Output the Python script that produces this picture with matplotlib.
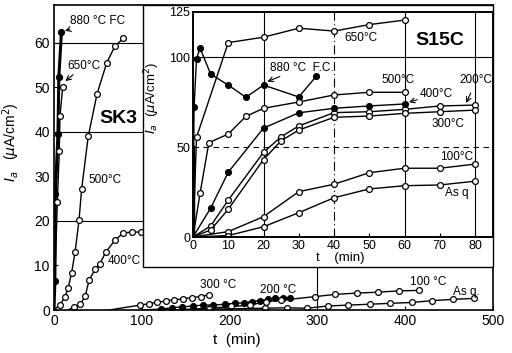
import matplotlib
matplotlib.use("Agg")
import matplotlib.pyplot as plt
from matplotlib.patches import Rectangle

plt.rcParams['font.family'] = ['Liberation Sans', 'DejaVu Sans']
plt.rcParams['mathtext.fontset'] = 'dejavusans'

# ---------------- main chart (SK3) data ----------------
sk_880_t = [0, 1, 1.5, 4.5, 5.5, 8.5]
sk_880_i = [0, 6.5, 26, 39.5, 52.3, 62.5]
sk_650_t = [0, 3.8, 6, 6.8, 9.9]
sk_650_i = [0, 24.3, 35.6, 43.6, 50]
sk_500_t = [0, 7, 12.5, 16, 20, 24, 28.5, 31.5, 39, 49, 60, 69.5, 79]
sk_500_i = [0, 1.2, 2.9, 4.9, 8.3, 13, 20.2, 27.2, 39, 48.5, 55.5, 59.3, 61]
sk_400_t = [16, 23, 30, 35.5, 40, 47, 52, 59, 69.5, 79, 88.5, 99]
sk_400_i = [0, 0.7, 1.3, 3.1, 6.7, 9.2, 10.3, 13, 15.7, 17.3, 17.5, 17.5]
sk_300_t = [63, 98, 108, 117, 127, 137, 147, 157, 167, 176]
sk_300_i = [0, 1.1, 1.4, 1.7, 2.0, 2.3, 2.5, 2.8, 3.0, 3.4]
sk_200_t = [100, 122, 134, 146, 158, 170, 181, 195, 206, 216, 225, 235, 244, 252, 261, 269]
sk_200_i = [0, 0.2, 0.5, 0.7, 0.9, 1.1, 1.1, 1.3, 1.5, 1.6, 1.9, 2.1, 2.4, 2.6, 2.6, 2.8]
sk_100_t = [140, 178, 202, 223, 242, 259, 297, 320, 345, 369, 393, 416]
sk_100_i = [0, 0.4, 0.8, 1.1, 1.9, 2.2, 3.0, 3.5, 3.8, 4.0, 4.3, 4.4]
sk_asq_t = [120, 176, 240, 265, 288, 312, 335, 360, 383, 408, 431, 455, 478]
sk_asq_i = [0, 0.2, 0.4, 0.5, 0.4, 0.9, 1.1, 1.3, 1.5, 1.7, 2.1, 2.4, 2.6]

# ---------------- inset chart (S15C) data ----------------
s_t = [0, 10, 20, 30, 40, 50, 60, 70, 80]
s_880_t = [0, 0.3, 1, 2, 5, 10, 15, 20, 30, 35]
s_880_i = [0, 72, 99, 105, 90.5, 84.4, 77.6, 84.4, 77.8, 89.4]
s_650_t = [0, 1, 10, 20, 30, 40, 50, 60]
s_650_i = [0, 55.4, 108, 111, 116, 114.4, 118, 120.5]
s_500_t = [0, 2, 4.5, 10, 15, 20, 30, 40, 50, 60]
s_500_i = [0, 24.3, 52.4, 57.2, 67, 71.5, 75, 78.9, 80.4, 80.4]
s_400_t = [0, 5, 10, 20, 30, 40, 50, 60]
s_400_i = [0, 16, 36, 60.5, 69, 71.5, 72.8, 73.9]
s_200_t = [0, 5, 10, 20, 25, 30, 40, 50, 60, 70, 80]
s_200_i = [0, 6.1, 20.5, 47, 55.7, 61.7, 69.1, 69.6, 70.9, 72.8, 73.3]
s_300_t = [0, 5, 10, 20, 25, 30, 40, 50, 60, 70, 80]
s_300_i = [0, 3.9, 15.4, 43, 53.5, 59.4, 66.5, 67.2, 68.7, 69.6, 70.5]
s_100_i = [0, 3, 11.3, 25.2, 29.3, 35.7, 38.2, 38.2, 40.5]
s_asq_i = [0, 0.8, 5.7, 13.5, 21.8, 26.7, 28.5, 28.9, 31]

main_xticks = [0, 100, 200, 300, 400, 500]
main_yticks = [0, 10, 20, 30, 40, 50, 60]
ins_xticks = [0, 10, 20, 30, 40, 50, 60, 70, 80]
ins_yticks = [0, 50, 100, 125]

fig = plt.figure(figsize=(5.12, 3.53), dpi=100)
ax = fig.add_axes([54/512, 1-310/353, 439/512, 305/353])
ax.set_xlim(0, 500)
ax.set_ylim(0, 68.5)

open_kw = dict(color='black', lw=1.0, marker='o', ms=4.2, mfc='white', mec='black', mew=0.9,
               markevery=slice(1, None))
fill_kw = dict(color='black', lw=1.0, marker='o', ms=4.2, mfc='black', mec='black', mew=0.9,
               markevery=slice(1, None))

for y in [20, 40, 60]:
    ax.axhline(y, color='black', lw=0.8, zorder=1)
ax.axvline(300, color='black', lw=0.8, zorder=1)

ax.plot(sk_880_t, sk_880_i, color='black', lw=2.2, marker='o', ms=4.2, mfc='black',
        mec='black', markevery=slice(1, None), zorder=3)
ax.plot(sk_650_t, sk_650_i, **open_kw, zorder=4)
ax.plot(sk_500_t, sk_500_i, **open_kw)
ax.plot(sk_400_t, sk_400_i, **open_kw)
ax.plot(sk_300_t, sk_300_i, **open_kw)
ax.plot(sk_200_t, sk_200_i, **fill_kw)
ax.plot(sk_100_t, sk_100_i, **open_kw)
ax.plot(sk_asq_t, sk_asq_i, **open_kw)

ax.set_xticks(main_xticks)
ax.set_yticks(main_yticks)
ax.tick_params(direction='in', length=3, labelsize=10, pad=3)
for s in ax.spines.values():
    s.set_linewidth(1.2)
ax.set_xlabel('t  (min)', fontsize=11)
ax.xaxis.set_label_coords(0.417, -0.075)
ax.set_ylabel(r'$I_a$   ($\mu$A/cm$^2$)', fontsize=10)
ax.yaxis.set_label_coords(-0.072, 0.55)

tk = dict(fontsize=8.5, color='black')
ax.annotate('880 °C FC', xy=(9.5, 62.5), xytext=(18, 65), va='center', ha='left',
            arrowprops=dict(arrowstyle='->', lw=0.8, color='black', shrinkA=0, shrinkB=2), **tk)
ax.annotate('650°C', xy=(10.5, 51), xytext=(15, 54.8), va='center', ha='left',
            arrowprops=dict(arrowstyle='->', lw=0.8, color='black', shrinkA=0, shrinkB=2), **tk)
ax.text(52, 43, 'SK3', fontsize=14, fontweight='bold', va='center', ha='left')
ax.text(39, 29.2, '500°C', va='center', ha='left', **tk)
ax.text(61.5, 11, '400°C', va='center', ha='left', **tk)
ax.text(166, 5.6, '300 °C', va='center', ha='left', **tk)
ax.text(235, 4.5, '200 °C', va='center', ha='left', **tk)
ax.text(405, 6.3, '100 °C', va='center', ha='left', **tk)
ax.text(454, 4.0, 'As q.', va='center', ha='left', **tk)

# inset frame
ax.add_patch(Rectangle((89/439, 43/305), 1 - 89/439, 1 - 43/305, transform=ax.transAxes,
                       facecolor='white', edgecolor='black', lw=1.0, zorder=6, clip_on=False))

# ---------------- inset axes ----------------
ax2 = fig.add_axes([193/512, 1-237/353, 300/512, 225/353])
ax2.set_xlim(0, 85.1)
ax2.set_ylim(0, 125)
ax2.axvline(20, color='black', lw=0.8, zorder=1)
ax2.axvline(40, color='black', lw=0.8, ls=(0, (8, 3, 1, 3)), zorder=1)
ax2.axvline(60, color='black', lw=0.8, zorder=1)
ax2.axvline(80, color='black', lw=0.8, zorder=1)
ax2.axhline(50, color='black', lw=0.8, ls=(0, (5, 4)), zorder=1)
ax2.axhline(100, color='black', lw=0.8, zorder=1)

ax2.plot(s_880_t, s_880_i, **fill_kw)
ax2.plot(s_650_t, s_650_i, **open_kw)
ax2.plot(s_500_t, s_500_i, **open_kw)
ax2.plot(s_400_t, s_400_i, **fill_kw, zorder=4)
ax2.plot(s_200_t, s_200_i, **open_kw)
ax2.plot(s_300_t, s_300_i, **open_kw)
ax2.plot(s_t, s_100_i, **open_kw)
ax2.plot(s_t, s_asq_i, **open_kw)
ax2.plot([0, 0], [0, 50], color='black', lw=2.5)

ax2.set_xticks(ins_xticks)
ax2.set_yticks(ins_yticks)
ax2.tick_params(direction='in', length=3, labelsize=9, pad=2)
for s in ax2.spines.values():
    s.set_linewidth(1.4)
ax2.set_xlabel('t    (min)', fontsize=9.5)
ax2.xaxis.set_label_coords(0.49, -0.065)
ax2.set_ylabel(r'$I_a$  ($\mu$A/cm$^2$)', fontsize=9.5)
ax2.yaxis.set_label_coords(-0.105, 0.62)

ax2.text(63, 109.4, 'S15C', fontsize=14, fontweight='bold', va='center', ha='left')
ax2.text(43, 110.5, '650°C', va='center', ha='left', **tk)
ax2.annotate('880 °C  F.C.', xy=(20, 85.5), xytext=(21.8, 94), va='center', ha='left',
             arrowprops=dict(arrowstyle='->', lw=0.8, color='black', shrinkA=0, shrinkB=3), **tk)
ax2.text(53.6, 87, '500°C', va='center', ha='left', **tk)
ax2.annotate('200°C', xy=(77.5, 74.5), xytext=(75.7, 87), va='center', ha='left',
             arrowprops=dict(arrowstyle='->', lw=0.8, color='black', shrinkA=3, shrinkB=0), **tk)
ax2.annotate('400°C', xy=(60.5, 74.5), xytext=(64.4, 79.4), va='center', ha='left',
             arrowprops=dict(arrowstyle='->', lw=0.8, color='black', shrinkA=0, shrinkB=2), **tk)
ax2.text(67.8, 62.8, '300°C', va='center', ha='left', **tk)
ax2.text(70, 44.4, '100°C', va='center', ha='left', **tk)
ax2.text(71.5, 24.4, 'As q', va='center', ha='left', **tk)

fig.savefig('out.png', dpi=100)
